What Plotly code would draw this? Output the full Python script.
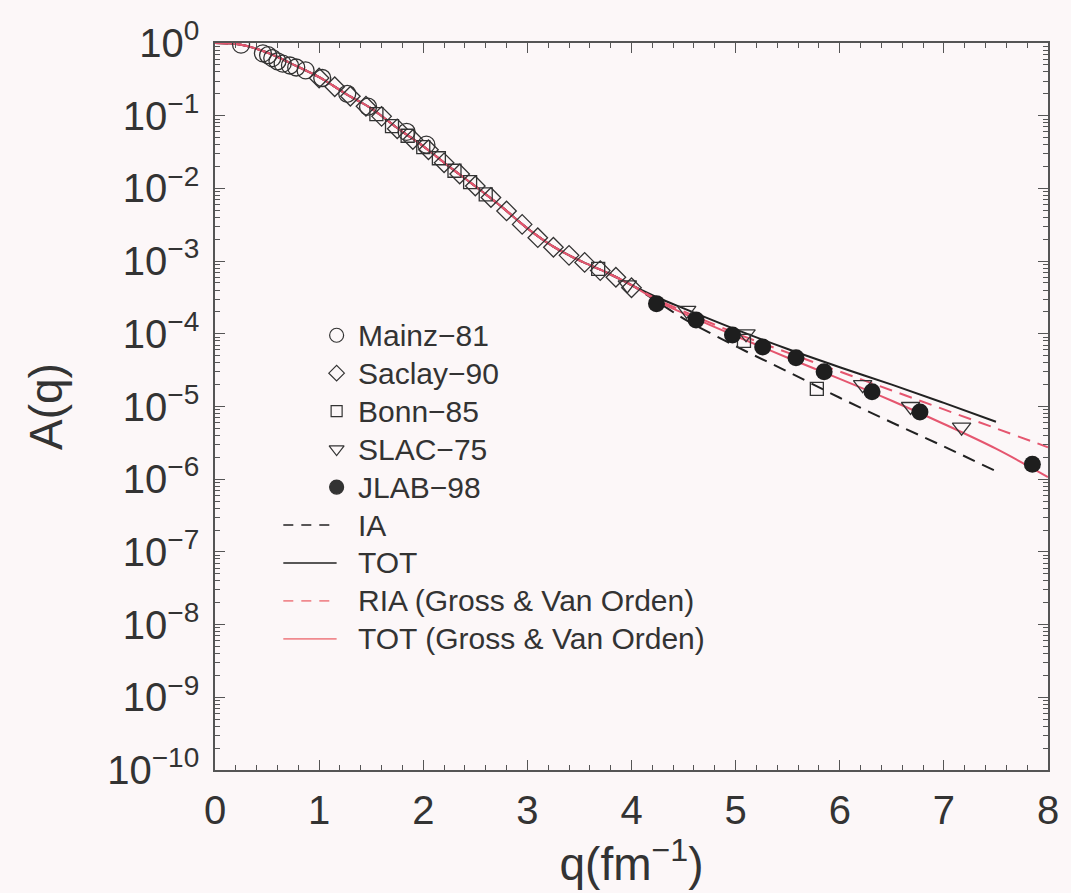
import plotly.graph_objects as go

# ---- model curves: shared low-q part, then each model above q = 4 fm^-1 ----
q_common = [0.0, 0.25, 0.5, 0.8, 1.0, 1.28, 1.5, 1.76, 2.0, 2.23, 2.5, 2.75,
            3.0, 3.25, 3.5, 3.75, 4.0]
A_common = [1.0, 0.944, 0.741, 0.468, 0.339, 0.191, 0.126, 0.0661, 0.0380,
            0.0209, 0.0107, 5.62e-3, 2.82e-3, 1.58e-3, 1.02e-3, 7.08e-4, 4.68e-4]

q_hi_black = [4.25, 4.5, 5.0, 5.5, 6.0, 6.5, 7.0, 7.5]
A_hi_ia = [2.75e-4, 1.62e-4, 6.76e-5, 3.02e-5, 1.32e-5, 6.03e-6, 2.82e-6, 1.29e-6]
A_hi_tot = [3.16e-4, 2.24e-4, 1.15e-4, 6.17e-5, 3.47e-5, 2.00e-5, 1.12e-5, 6.17e-6]

q_hi_red = [4.25, 4.5, 5.0, 5.5, 6.0, 6.5, 7.0, 7.5, 8.0]
A_hi_ria_gvo = [2.95e-4, 2.04e-4, 1.02e-4, 5.50e-5, 3.02e-5, 1.66e-5, 9.12e-6,
                5.01e-6, 2.75e-6]
A_hi_tot_gvo = [2.82e-4, 1.91e-4, 9.33e-5, 4.68e-5, 2.40e-5, 1.20e-5, 5.75e-6,
                2.63e-6, 1.07e-6]

# ---- experimental data ----
q_mainz = [0.25, 0.46, 0.51, 0.55, 0.60, 0.65, 0.72, 0.78, 0.87, 1.03, 1.27,
           1.47, 1.84, 2.03]
A_mainz = [0.95, 0.72, 0.68, 0.62, 0.56, 0.52, 0.49, 0.46, 0.42, 0.33, 0.20,
           0.133, 0.060, 0.040]

q_saclay = [1.0, 1.15, 1.3, 1.45, 1.6, 1.75, 1.9, 2.05, 2.2, 2.35, 2.5, 2.65,
            2.8, 2.95, 3.1, 3.25, 3.4, 3.55, 3.7, 3.85, 4.0]
A_saclay = [0.33, 0.25, 0.185, 0.135, 0.098, 0.066, 0.047, 0.034, 0.0225,
            0.0158, 0.0108, 7.5e-3, 4.9e-3, 3.2e-3, 2.1e-3, 1.55e-3, 1.2e-3,
            9.6e-4, 7.4e-4, 6.0e-4, 4.3e-4]

q_bonn = [1.55, 1.7, 1.85, 2.0, 2.15, 2.3, 2.45, 2.6, 3.68, 5.08, 5.78]
A_bonn = [0.105, 0.072, 0.053, 0.037, 0.026, 0.0175, 0.0122, 8.3e-3, 7.8e-4,
          8.0e-5, 1.75e-5]

q_slac = [3.96, 4.53, 5.1, 6.22, 6.68, 7.17]
A_slac = [4.7e-4, 2.1e-4, 1.0e-4, 2.0e-5, 1.0e-5, 5.2e-6]

q_jlab = [4.24, 4.62, 4.97, 5.26, 5.58, 5.85, 6.31, 6.77, 7.85]
A_jlab = [2.6e-4, 1.55e-4, 9.6e-5, 6.6e-5, 4.7e-5, 3.0e-5, 1.6e-5, 8.4e-6, 1.6e-6]

# ---- axis ticks ----
x_tickvals = [0, 1, 2, 3, 4, 5, 6, 7, 8]
y_tickvals = [1, 1e-1, 1e-2, 1e-3, 1e-4, 1e-5, 1e-6, 1e-7, 1e-8, 1e-9, 1e-10]
y_ticktext = ["10<sup>0</sup>", "10<sup>−1</sup>", "10<sup>−2</sup>",
              "10<sup>−3</sup>", "10<sup>−4</sup>", "10<sup>−5</sup>",
              "10<sup>−6</sup>", "10<sup>−7</sup>", "10<sup>−8</sup>",
              "10<sup>−9</sup>", "10<sup>−10</sup>"]

legend_labels = ["Mainz−81", "Saclay−90", "Bonn−85", "SLAC−75", "JLAB−98",
                 "IA", "TOT", "RIA (Gross & Van Orden)",
                 "TOT (Gross & Van Orden)"]

FONT = "Liberation Sans, Arial, Helvetica, sans-serif"
INK = "#333333"
RED = "#e5566f"
RED_LEG = "#f08a8f"
BG = "#fcf7f8"

fig = go.Figure()

# model curves
fig.add_trace(go.Scatter(x=q_common + q_hi_black, y=A_common + A_hi_ia,
                         mode="lines", line=dict(color="#222", width=2, dash="13px,8px"),
                         line_shape="spline", showlegend=False))
fig.add_trace(go.Scatter(x=q_common + q_hi_black, y=A_common + A_hi_tot,
                         mode="lines", line=dict(color="#222", width=2),
                         line_shape="spline", showlegend=False))
fig.add_trace(go.Scatter(x=q_common + q_hi_red, y=A_common + A_hi_ria_gvo,
                         mode="lines", line=dict(color=RED, width=2, dash="13px,8px"),
                         line_shape="spline", showlegend=False))
fig.add_trace(go.Scatter(x=q_common + q_hi_red, y=A_common + A_hi_tot_gvo,
                         mode="lines", line=dict(color=RED, width=2),
                         line_shape="spline", showlegend=False))

# data points
open_line = dict(color=INK, width=1.3)
fig.add_trace(go.Scatter(x=q_mainz, y=A_mainz, mode="markers", showlegend=False,
                         marker=dict(symbol="circle-open", size=17, line=open_line, color=INK)))
fig.add_trace(go.Scatter(x=q_saclay, y=A_saclay, mode="markers", showlegend=False,
                         marker=dict(symbol="diamond-open", size=15, line=open_line, color=INK)))
fig.add_trace(go.Scatter(x=q_bonn, y=A_bonn, mode="markers", showlegend=False,
                         marker=dict(symbol="square-open", size=13, line=open_line, color=INK)))
fig.add_trace(go.Scatter(x=q_slac, y=A_slac, mode="markers", showlegend=False,
                         marker=dict(symbol="triangle-down-open", size=16, line=open_line, color=INK)))
fig.add_trace(go.Scatter(x=q_jlab, y=A_jlab, mode="markers", showlegend=False,
                         marker=dict(symbol="circle", size=17, color="#1e1e1e",
                                     line=dict(color="#1e1e1e", width=0))))

# hand-placed legend inside the frame
row_y = [0.598 - 0.0522 * i for i in range(len(legend_labels))]
sym_x = 0.146
text_x = 0.169
line_x0 = 0.082

leg_symbols = ["circle-open", "diamond-open", "square-open", "triangle-down-open", "circle"]
leg_sizes = [14, 12, 11, 13, 14]
for i, (sym, sz) in enumerate(zip(leg_symbols, leg_sizes)):
    fig.add_trace(go.Scatter(x=[sym_x], y=[row_y[i]], xaxis="x2", yaxis="y2",
                             mode="markers", showlegend=False, hoverinfo="skip",
                             marker=dict(symbol=sym, size=sz, color=INK,
                                         line=dict(color=INK, width=1.2))))

leg_lines = [("#222", "10px,8px"), ("#222", "solid"), (RED_LEG, "10px,8px"), (RED_LEG, "solid")]
for j, (col, dash) in enumerate(leg_lines):
    y = row_y[5 + j]
    fig.add_shape(type="line", xref="paper", yref="paper", x0=line_x0, x1=sym_x,
                  y0=y, y1=y, line=dict(color=col, width=1.6, dash=dash))

for i, lab in enumerate(legend_labels):
    fig.add_annotation(x=text_x, y=row_y[i], xref="paper", yref="paper",
                       text=lab, showarrow=False, xanchor="left", yanchor="middle",
                       font=dict(family=FONT, size=30, color=INK))

axis_common = dict(showline=True, linecolor="#555", linewidth=1.5, mirror="allticks",
                   ticks="inside", tickcolor="#555", tickwidth=1.2, showgrid=False,
                   zeroline=False)

fig.update_layout(
    width=1071, height=893,
    margin=dict(l=215, r=14, t=43, b=123),
    paper_bgcolor=BG, plot_bgcolor=BG,
    font=dict(family=FONT, color=INK),
    xaxis=dict(range=[0, 8], tickvals=x_tickvals, ticklen=10,
               minor=dict(dtick=0.2, ticks="inside", ticklen=5, tickcolor="#555"),
               tickfont=dict(size=40, color=INK), ticklabelstandoff=4,
               title=dict(text="q(fm<sup>−1</sup>)", font=dict(size=46, color=INK),
                          standoff=4),
               **axis_common),
    yaxis=dict(type="log", range=[-10, 0], tickvals=y_tickvals, ticktext=y_ticktext,
               ticklen=10,
               minor=dict(ticks="inside", ticklen=5, tickcolor="#555", dtick="D1"),
               tickfont=dict(size=40, color=INK), ticklabelstandoff=6,
               title=dict(text="A(q)", font=dict(size=46, color=INK), standoff=30),
               **axis_common),
    xaxis2=dict(overlaying="x", range=[0, 1], visible=False),
    yaxis2=dict(overlaying="y", range=[0, 1], visible=False),
)

fig.write_html("out.html")
